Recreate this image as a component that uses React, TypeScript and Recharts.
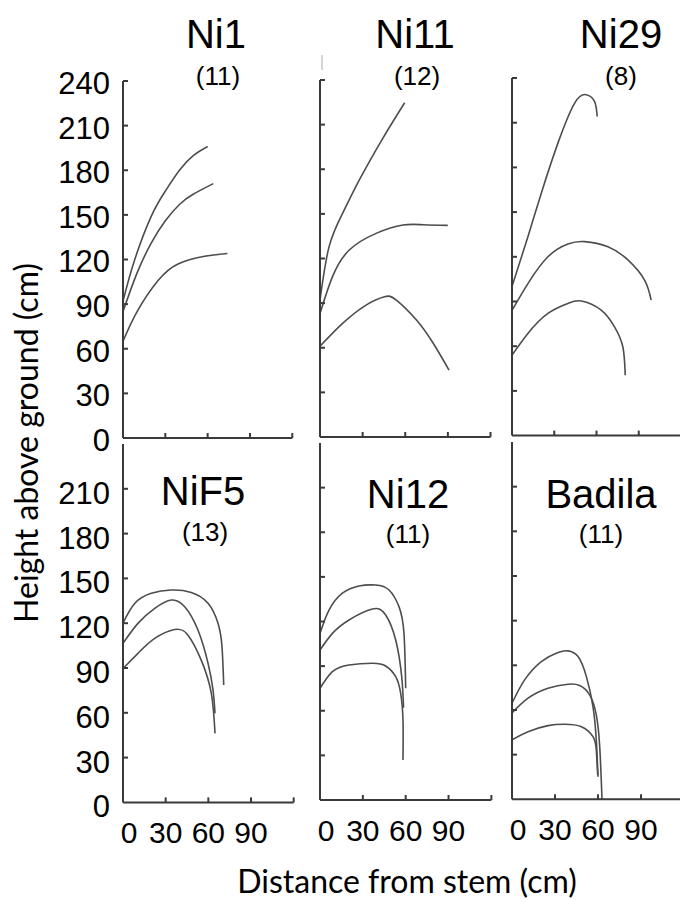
import React from 'react';
import { LineChart, Line, XAxis, YAxis } from 'recharts';

type Pt = { x: number; y: number };

const xTicks = [0, 30, 60, 90, 120];
const yTicksTop = [0, 30, 60, 90, 120, 150, 180, 210, 240];
const yTicksBottom = [0, 30, 60, 90, 120, 150, 180, 210];

const cultivars = ['Ni1', 'Ni11', 'Ni29', 'NiF5', 'Ni12', 'Badila'];
const sampleSizes = ['(11)', '(12)', '(8)', '(13)', '(11)', '(11)'];

// canopy outlines: distance from stem (x) vs height above ground (y), in cm
const ni1Upper: Pt[] = [
  { x: 0, y: 92 }, { x: 8, y: 119 }, { x: 20, y: 149 }, { x: 30, y: 166 },
  { x: 40, y: 180 }, { x: 50, y: 190 }, { x: 60, y: 196 },
];
const ni1Middle: Pt[] = [
  { x: 0, y: 85 }, { x: 10, y: 111 }, { x: 20, y: 131 }, { x: 30, y: 146 },
  { x: 40, y: 157 }, { x: 50, y: 164 }, { x: 64, y: 171 },
];
const ni1Lower: Pt[] = [
  { x: 0, y: 65 }, { x: 10, y: 85 }, { x: 25, y: 106 }, { x: 39, y: 117 },
  { x: 57, y: 122 }, { x: 74, y: 124 },
];

const ni11Upper: Pt[] = [
  { x: 0, y: 92 }, { x: 6.4, y: 128 }, { x: 15.9, y: 150.4 }, { x: 27.7, y: 172.8 },
  { x: 44.2, y: 200.8 }, { x: 59.6, y: 224.7 },
];
const ni11Middle: Pt[] = [
  { x: 0, y: 83 }, { x: 8.8, y: 107.8 }, { x: 20.6, y: 125.7 }, { x: 39.5, y: 136.9 },
  { x: 58.4, y: 142.5 }, { x: 72.6, y: 142.7 }, { x: 89.9, y: 142.3 },
];
const ni11Lower: Pt[] = [
  { x: 0, y: 61 }, { x: 15.9, y: 76.4 }, { x: 32.4, y: 88.7 }, { x: 45.4, y: 94.3 },
  { x: 53.7, y: 92.1 }, { x: 67.9, y: 78.7 }, { x: 79.7, y: 63 }, { x: 90.8, y: 45 },
];

const ni29Upper: Pt[] = [
  { x: 0, y: 100 }, { x: 11.3, y: 133.5 }, { x: 20.8, y: 162.7 }, { x: 32.6, y: 196.3 },
  { x: 44.5, y: 223.2 }, { x: 52.7, y: 228.8 }, { x: 58.6, y: 224.3 }, { x: 60.5, y: 214.2 },
];
const ni29Middle: Pt[] = [
  { x: 0, y: 84 }, { x: 11.3, y: 102 }, { x: 25.5, y: 120 }, { x: 39.7, y: 128.6 },
  { x: 51.6, y: 130.2 }, { x: 68.1, y: 126.8 }, { x: 82.3, y: 117.9 }, { x: 94.1, y: 104.4 },
  { x: 98.8, y: 91 },
];
const ni29Lower: Pt[] = [
  { x: 0, y: 54 }, { x: 11.3, y: 68.6 }, { x: 25.5, y: 82 }, { x: 39.7, y: 88.7 },
  { x: 49.2, y: 90.3 }, { x: 63.3, y: 84.2 }, { x: 72.8, y: 73 }, { x: 78.7, y: 59.6 },
  { x: 80.4, y: 40.5 },
];

const nif5Upper: Pt[] = [
  { x: 0, y: 120 }, { x: 8.2, y: 133.2 }, { x: 19.9, y: 140 }, { x: 34, y: 142.2 },
  { x: 48, y: 140.6 }, { x: 59.8, y: 133.3 }, { x: 66.8, y: 119.9 }, { x: 69.6, y: 104.2 },
  { x: 70.8, y: 78.6 },
];
const nif5Middle: Pt[] = [
  { x: 0, y: 106.5 }, { x: 10.5, y: 119.9 }, { x: 22.3, y: 129.9 }, { x: 34, y: 135.5 },
  { x: 43.4, y: 131 }, { x: 52.7, y: 115.4 }, { x: 59.8, y: 93.1 }, { x: 63.3, y: 75.2 },
  { x: 64.7, y: 59.6 },
];
const nif5Lower: Pt[] = [
  { x: 0, y: 89.7 }, { x: 10.5, y: 99.8 }, { x: 22.3, y: 109.8 }, { x: 36.3, y: 115.8 },
  { x: 45.7, y: 112 }, { x: 55, y: 95.3 }, { x: 62.1, y: 73 }, { x: 64.7, y: 46.2 },
];

const ni12Upper: Pt[] = [
  { x: 0, y: 112 }, { x: 6.3, y: 127.7 }, { x: 15.7, y: 139 }, { x: 27.3, y: 143.9 },
  { x: 39, y: 144.5 }, { x: 48.3, y: 141.2 }, { x: 55.3, y: 130 }, { x: 58.8, y: 112 },
  { x: 60, y: 75.1 },
];
const ni12Middle: Pt[] = [
  { x: 0, y: 100.8 }, { x: 8.7, y: 112 }, { x: 20.3, y: 121 }, { x: 36.7, y: 128.4 },
  { x: 46, y: 124.4 }, { x: 53, y: 107.6 }, { x: 57.2, y: 82.9 }, { x: 58.5, y: 62 },
];
const ni12Lower: Pt[] = [
  { x: 0, y: 75.1 }, { x: 8.7, y: 86.3 }, { x: 20.3, y: 90.8 }, { x: 36.7, y: 91.9 },
  { x: 46, y: 90.1 }, { x: 53, y: 82.9 }, { x: 56.5, y: 71.7 }, { x: 58.1, y: 53.8 },
  { x: 58.1, y: 26.9 },
];

const badilaUpper: Pt[] = [
  { x: 0, y: 64.5 }, { x: 8.8, y: 80.2 }, { x: 20.5, y: 92.5 }, { x: 32.1, y: 98.6 },
  { x: 39.1, y: 99.7 }, { x: 46.1, y: 95.9 }, { x: 51.9, y: 82.4 }, { x: 56.5, y: 62.3 },
  { x: 58.8, y: 39.9 }, { x: 60, y: 15.2 },
];
const badilaMiddle: Pt[] = [
  { x: 0, y: 58 }, { x: 11.2, y: 67.9 }, { x: 25.1, y: 74.6 }, { x: 39.1, y: 77.3 },
  { x: 47.2, y: 76.4 }, { x: 54.2, y: 70.1 }, { x: 58.8, y: 56.7 }, { x: 61.2, y: 35.4 },
  { x: 62.8, y: 0 },
];
const badilaLower: Pt[] = [
  { x: 0, y: 39.9 }, { x: 11.2, y: 45.4 }, { x: 25.1, y: 49.5 }, { x: 36.8, y: 50.4 },
  { x: 48.4, y: 48.8 }, { x: 56.5, y: 42.1 }, { x: 58.8, y: 33.1 }, { x: 59.8, y: 16.3 },
];

const panelCurves: Pt[][][] = [
  [ni1Upper, ni1Middle, ni1Lower],
  [ni11Upper, ni11Middle, ni11Lower],
  [ni29Upper, ni29Middle, ni29Lower],
  [nif5Upper, nif5Middle, nif5Lower],
  [ni12Upper, ni12Middle, ni12Lower],
  [badilaUpper, badilaMiddle, badilaLower],
];

// plot-area boxes: left, top (240 cm), bottom (0 cm), width (120 cm)
const layout = [
  { left: 123, top: 80.7, bottom: 437.7, width: 169.3, title: 48, count: 85 },
  { left: 320.3, top: 80, bottom: 437, width: 170.5, title: 48, count: 85 },
  { left: 512, top: 77.7, bottom: 435.3, width: 169, title: 48, count: 85 },
  { left: 123, top: 443.9, bottom: 802.3, width: 170.7, title: 505, count: 541 },
  { left: 320.3, top: 443, bottom: 800, width: 171.4, title: 508, count: 543 },
  { left: 512, top: 442, bottom: 799.3, width: 172, title: 508, count: 543 },
];
const titleX = [216, 415, 621, 203, 408, 601];
const countX = [218, 417, 621, 205, 408, 601];

const AXIS = '#3a3a3a';
const CURVE = '#4d4d4d';
const NUM_FONT = '"Liberation Sans", Arial, sans-serif';
const LABEL_FONT = 'Lato, "Open Sans", sans-serif';
const Y_W = 80;
const X_H = 56;
const M = { top: 24, right: 14, bottom: 0, left: 0 };

function renderYTick(props: any, axisX: number, showLabel: boolean, dy: number) {
  const { y, payload } = props;
  const v = payload.value;
  return (
    <g>
      {v !== 0 && <line x1={axisX} x2={axisX + 5} y1={y} y2={y} stroke={AXIS} strokeWidth={2} />}
      {showLabel && (
        <text x={axisX - 13} y={y + dy} textAnchor="end" fontSize={31} fontFamily={NUM_FONT} fill="#000">
          {v}
        </text>
      )}
    </g>
  );
}

function renderXTick(props: any, axisY: number, showLabel: boolean) {
  const { x, payload } = props;
  const v = payload.value;
  return (
    <g>
      {v !== 0 && <line x1={x} x2={x} y1={axisY} y2={axisY - 5} stroke={AXIS} strokeWidth={2} />}
      {showLabel && v < 120 && (
        <text x={x + (v === 0 ? 6 : 0)} y={axisY + 41} textAnchor="middle" fontSize={30} fontFamily={NUM_FONT} fill="#000">
          {v}
        </text>
      )}
    </g>
  );
}

function Panel({ index }: { index: number }) {
  const box = layout[index];
  const bottomRow = index >= 3;
  const firstCol = index % 3 === 0;
  const h = box.bottom - box.top;
  const axisY = M.top + h;
  return (
    <div style={{ position: 'absolute', left: box.left - Y_W, top: box.top - M.top }}>
      <LineChart width={box.width + Y_W + M.right} height={h + M.top + X_H} margin={M}>
        <XAxis
          type="number"
          dataKey="x"
          domain={[0, 120]}
          ticks={xTicks}
          interval={0}
          height={X_H}
          tickSize={0}
          tickMargin={0}
          tickLine={false}
          allowDataOverflow
          axisLine={{ stroke: AXIS, strokeWidth: 2 }}
          tick={(p: any) => renderXTick(p, axisY, bottomRow)}
        />
        <YAxis
          type="number"
          dataKey="y"
          domain={[0, 240]}
          ticks={bottomRow ? yTicksBottom : yTicksTop}
          interval={0}
          width={Y_W}
          tickSize={0}
          tickMargin={0}
          tickLine={false}
          allowDataOverflow
          axisLine={{ stroke: AXIS, strokeWidth: 2 }}
          tick={(p: any) => renderYTick(p, Y_W, firstCol, bottomRow ? 15 : 13)}
        />
        {panelCurves[index].map((curve, i) => (
          <Line
            key={i}
            data={curve}
            dataKey="y"
            type="natural"
            stroke={CURVE}
            strokeWidth={1.6}
            dot={false}
            activeDot={false}
            isAnimationActive={false}
          />
        ))}
      </LineChart>
    </div>
  );
}

export default function App() {
  return (
    <div style={{ position: 'absolute', left: 0, top: 0, width: 680, height: 904, background: '#fff', overflow: 'hidden' }}>
      {cultivars.map((_, i) => (
        <Panel key={i} index={i} />
      ))}
      <svg width={680} height={904} style={{ position: 'absolute', left: 0, top: 0, pointerEvents: 'none' }}>
        {cultivars.map((name, i) => (
          <g key={name}>
            <text x={titleX[i]} y={layout[i].title} textAnchor="middle" fontSize={40} fontFamily={NUM_FONT} fill="#000">
              {name}
            </text>
            <text x={countX[i]} y={layout[i].count} textAnchor="middle" fontSize={26} fontFamily={NUM_FONT} fill="#000">
              {sampleSizes[i]}
            </text>
          </g>
        ))}
        <line x1={322} x2={322} y1={55} y2={70} stroke="#aaa" strokeWidth={1} />
        <text
          transform="translate(38,443) rotate(-90)"
          textAnchor="middle"
          fontSize={32}
          fontFamily={LABEL_FONT}
          fill="#000"
        >
          Height above ground (cm)
        </text>
        <text x={407} y={893} textAnchor="middle" fontSize={32} fontFamily={LABEL_FONT} fill="#000">
          Distance from stem (cm)
        </text>
      </svg>
    </div>
  );
}
